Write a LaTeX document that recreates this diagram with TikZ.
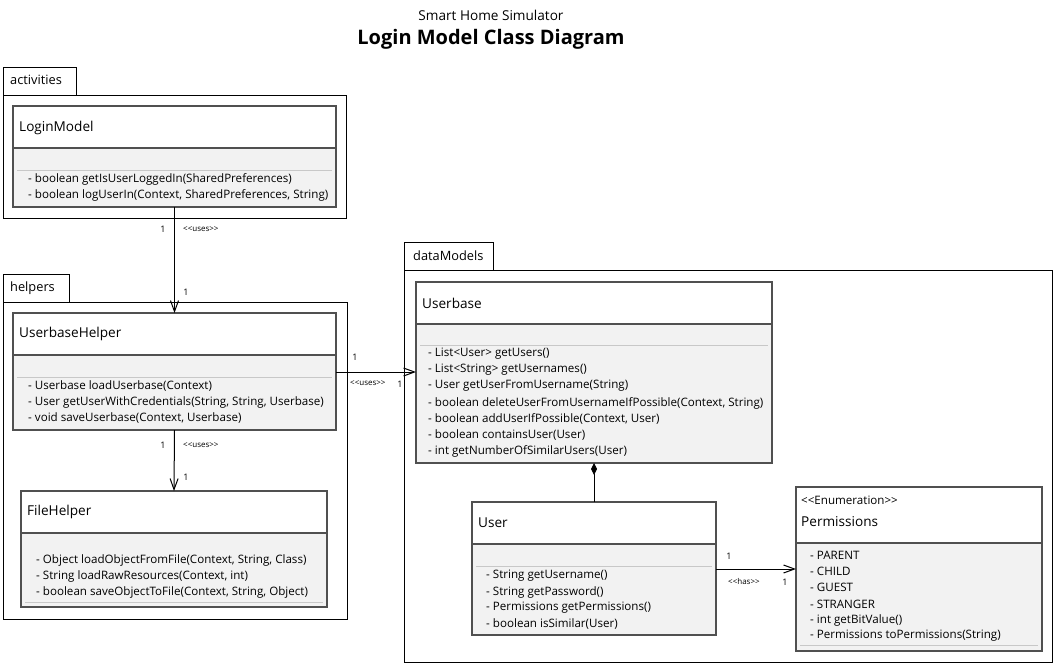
\documentclass[tikz,border=0pt]{standalone}
\usepackage{fontspec}
\setmainfont{Open Sans}[Ligatures=TeXOff]
\usetikzlibrary{arrows.meta}
\definecolor{clsborder}{HTML}{505050}
\definecolor{clsfill}{HTML}{F2F2F2}
\definecolor{sepgray}{HTML}{C8C8C8}
\newcommand\memfont{\fontsize{11.6}{13}\selectfont}
\newcommand\namefont{\fontsize{13.6}{15}\selectfont}
\newcommand\pkgfont{\fontsize{12.8}{14}\selectfont}
\newcommand\lblfont{\fontsize{9}{10}\selectfont}
\newcommand\smlfont{\fontsize{8}{9}\selectfont}
\newcommand\umlclass[7]{%
  \node[clsbox, minimum width=#4pt, minimum height=#5pt] (#1) at (#2,#3) {};
  \fill[clsfill] (#2,#6) rectangle (#2+#4,#3+#5);
  \draw[sepline] (#2+4,#7) -- (#2+#4-4,#7);
  \draw[clsline] (#2,#6) -- (#2+#4,#6);
  \draw[clsline] (#1.north west) rectangle (#1.south east);
}
\begin{document}
\begin{tikzpicture}[x=1pt,y=-1pt,
  pkgline/.style={draw=black, line width=1pt},
  clsbox/.style={draw=clsborder, line width=1.2pt, fill=white, anchor=north west, inner sep=0pt, outer sep=0pt},
  clsline/.style={draw=clsborder, line width=1.2pt},
  sepline/.style={draw=sepgray, line width=0.8pt},
  memtext/.style={anchor=west, inner sep=0pt, font=\memfont},
  nametext/.style={anchor=west, inner sep=0pt, font=\namefont},
  pkgtext/.style={anchor=west, inner sep=0pt, font=\pkgfont},
  lbl/.style={inner sep=0pt, font=\lblfont},
  stlbl/.style={inner sep=0pt, font=\smlfont},
  assoc/.style={draw=black, line width=1pt, -{Straight Barb[length=11pt,width=8pt]}},
  comp/.style={draw=black, line width=1pt, {Diamond[length=12pt,width=6pt]}-},
]
\useasboundingbox[fill=white] (0,0) rectangle (1054,664);

% titles
\node[inner sep=0pt, font=\fontsize{13.6}{15}\selectfont] (t1) at (491,15) {Smart Home Simulator};
\node[inner sep=0pt, font=\fontsize{20}{24}\selectfont\bfseries] (t2) at (491,39) {Login Model Class Diagram};

% packages
\draw[pkgline] (3,67) rectangle (76,95);
\draw[pkgline] (3,95) rectangle (346,218);
\node[pkgtext] (pk1) at (10,80) {activities};
\draw[pkgline] (3,274) rectangle (69,302);
\draw[pkgline] (3,302) rectangle (347,619);
\node[pkgtext] (pk2) at (10,288) {helpers};
\draw[pkgline] (404,242) rectangle (493,270);
\draw[pkgline] (404,270) rectangle (1052,662);
\node[pkgtext] (pk3) at (413,256) {dataModels};

% LoginModel
\umlclass{lm}{13}{106}{323}{101}{148}{170}
\node[nametext] (lmn) at (19,128) {LoginModel};
\node[memtext] (lm1) at (28,179) {- boolean getIsUserLoggedIn(SharedPreferences)};
\node[memtext] (lm2) at (28,195) {- boolean logUserIn(Context, SharedPreferences, String)};

% UserbaseHelper
\umlclass{ubh}{13}{313}{323}{117}{355}{377}
\node[nametext] (ubhn) at (19,334) {UserbaseHelper};
\node[memtext] (ubh1) at (28,386) {- Userbase loadUserbase(Context)};
\node[memtext] (ubh2) at (28,402) {- User getUserWithCredentials(String, String, Userbase)};
\node[memtext] (ubh3) at (28,418) {- void saveUserbase(Context, Userbase)};

% FileHelper
\umlclass{fh}{21}{491}{306}{116}{533}{602}
\node[nametext] (fhn) at (27,512) {FileHelper};
\node[memtext] (fh1) at (36,560) {- Object loadObjectFromFile(Context, String, Class)};
\node[memtext] (fh2) at (36,576) {- String loadRawResources(Context, int)};
\node[memtext] (fh3) at (36,592) {- boolean saveObjectToFile(Context, String, Object)};

% Userbase
\umlclass{ub}{416}{282}{356}{181}{324}{345}
\node[nametext] (ubn) at (422,303) {Userbase};
\node[memtext] (ub1) at (428,354) {- List<User> getUsers()};
\node[memtext] (ub2) at (428,370) {- List<String> getUsernames()};
\node[memtext] (ub3) at (428,386) {- User getUserFromUsername(String)};
\node[memtext] (ub4) at (428,403) {- boolean deleteUserFromUsernameIfPossible(Context, String)};
\node[memtext] (ub5) at (428,419) {- boolean addUserIfPossible(Context, User)};
\node[memtext] (ub6) at (428,435) {- boolean containsUser(User)};
\node[memtext] (ub7) at (428,451) {- int getNumberOfSimilarUsers(User)};

% User
\umlclass{usr}{472}{502}{244}{133}{544}{566}
\node[nametext] (usrn) at (478,523) {User};
\node[memtext] (usr1) at (486,576) {- String getUsername()};
\node[memtext] (usr2) at (486,592) {- String getPassword()};
\node[memtext] (usr3) at (486,608) {- Permissions getPermissions()};
\node[memtext] (usr4) at (486,624) {- boolean isSimilar(User)};

% Permissions
\umlclass{perm}{796}{487}{246}{164}{543}{645}
\node[memtext] (perms) at (801,500) {<<Enumeration>>};
\node[nametext] (permn) at (801,522) {Permissions};
\node[memtext] (perm1) at (810,555) {- PARENT};
\node[memtext] (perm2) at (810,571) {- CHILD};
\node[memtext] (perm3) at (810,587) {- GUEST};
\node[memtext] (perm4) at (810,604) {- STRANGER};
\node[memtext] (perm5) at (810,620) {- int getBitValue()};
\node[memtext] (perm6) at (810,636) {- Permissions toPermissions(String)};

% connectors
\draw[assoc] (lm.south) -- (ubh.north);
\node[lbl] (c1a) at (163,229) {1};
\node[stlbl, anchor=west] (c1b) at (183,229) {<<uses>>};
\node[lbl] (c1c) at (186,292) {1};

\draw[assoc] ([yshift=-59pt]ubh.north east) -- ([yshift=-90pt]ub.north west);
\node[lbl] (c2a) at (355,357) {1};
\node[stlbl, anchor=west] (c2b) at (350,383) {<<uses>>};
\node[lbl] (c2c) at (400,384) {1};

\draw[assoc] (ubh.south) -- (fh.north);
\node[lbl] (c3a) at (163,445) {1};
\node[stlbl, anchor=west] (c3b) at (183,445) {<<uses>>};
\node[lbl] (c3c) at (186,477) {1};

\draw[comp] (ub.south) -- (usr.north);

\draw[assoc] ([yshift=-67pt]usr.north east) -- ([yshift=-82pt]perm.north west);
\node[lbl] (c4a) at (729,556) {1};
\node[stlbl, anchor=west] (c4b) at (728,581) {<<has>>};
\node[lbl] (c4c) at (785,582) {1};
\end{tikzpicture}
\end{document}
